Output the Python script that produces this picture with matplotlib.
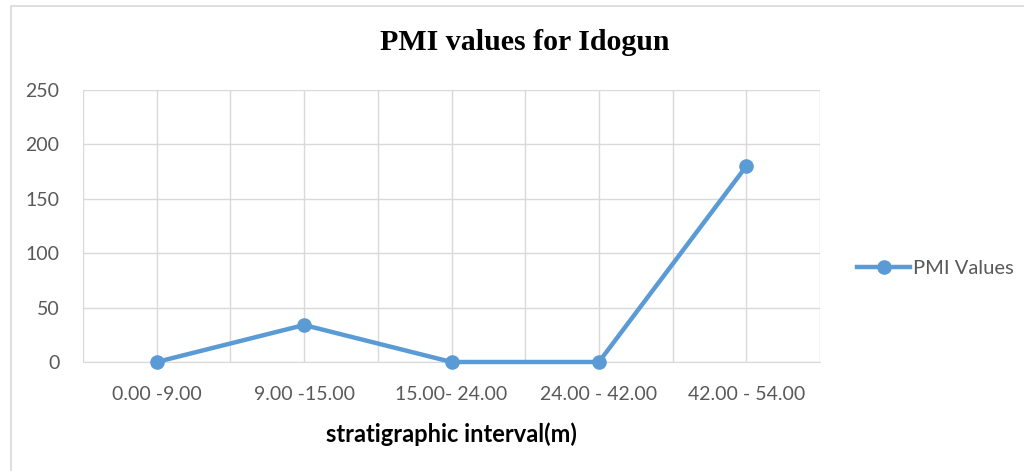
import matplotlib
matplotlib.use("Agg")
import matplotlib.pyplot as plt
from matplotlib.patches import Rectangle
import numpy as np

# data
intervals = ['0.00 -9.00', '9.00 -15.00', '15.00- 24.00', '24.00 - 42.00', '42.00 - 54.00']
pmi_values = [0, 34, 0, 0, 180]
y_ticks = [0, 50, 100, 150, 200, 250]

fig = plt.figure(figsize=(10.24, 4.71), dpi=100)
fig.patches.append(Rectangle((11 / 1024, -0.1), 1.2, 1.1 - 6 / 471, transform=fig.transFigure,
                             fill=False, edgecolor='#d9d9d9', linewidth=1.2))

ax = fig.add_axes([83 / 1024, 1 - 362 / 471, (820 - 83) / 1024, (362 - 90) / 471])
x = np.arange(len(intervals))
ax.plot(x, pmi_values, color='#5b9bd5', linewidth=3.2, marker='o', markersize=9.5,
        label='PMI Values', zorder=3, clip_on=False)

ax.set_xlim(-0.5, len(intervals) - 0.5)
ax.set_ylim(0, 250)
ax.set_yticks(y_ticks)
ax.set_xticks(x)
ax.set_xticklabels(intervals)
ax.set_xticks(np.arange(-0.5, len(intervals), 1.0), minor=True)
ax.grid(True, which='both', color='#d9d9d9', linewidth=1)
ax.tick_params(which='both', length=0)
ax.tick_params(axis='y', pad=17, labelsize=14, labelcolor='#595959')
ax.tick_params(axis='x', pad=17, labelsize=14, labelcolor='#595959')
for lab in ax.get_xticklabels() + ax.get_yticklabels():
    lab.set_family('Lato')
for s in ['top', 'right', 'left']:
    ax.spines[s].set_visible(False)
ax.spines['bottom'].set_color('#d9d9d9')

ax.set_xlabel('stratigraphic interval(m)', family='Lato', fontweight='bold', fontsize=17,
              labelpad=14, color='black')
fig.text(525 / 1024, 1 - 43 / 471, 'PMI values for Idogun', family='Liberation Serif',
         fontweight='bold', fontsize=21.5, ha='center', va='center')

ax.legend(loc='center left', bbox_to_anchor=(1.05, 0.345), frameon=False, borderpad=0,
          borderaxespad=0, prop={'family': 'Lato', 'size': 14.5}, handlelength=2.65,
          handletextpad=0.15, labelcolor='#595959')

fig.savefig('out.png', dpi=100)
